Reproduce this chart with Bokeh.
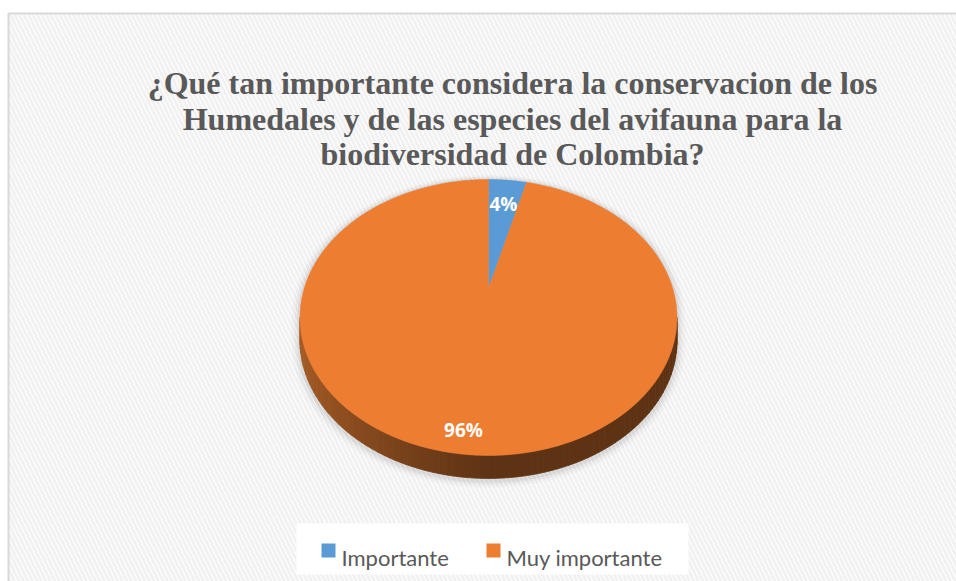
import numpy as np
from bokeh.plotting import figure
from bokeh.models import Range1d
from bokeh.core.properties import value
from bokeh.embed import file_html
from bokeh.resources import INLINE

# ---------------- data ----------------
title_lines = [
    "¿Qué tan importante considera la conservacion de los",
    "Humedales y de las especies del avifauna para la",
    "biodiversidad de Colombia?",
]
categories = ["Importante", "Muy importante"]
values = [4, 96]
colors = ["#5B9BD5", "#ED7D31"]
side_light = (0xA8, 0x5D, 0x26)
side_dark = (0x5E, 0x33, 0x14)

# ---------------- layout ----------------
W, H = 956, 581
CX, CY = 488.0, 288.0       # projected pie centre (apex)
K = 0.21                    # perspective factor
B = 131.9                   # vertical radius factor
A = 184.3                   # horizontal radius factor
DEPTH = 23.0
label_r = [0.745, 0.885]

def proj(u, v, a=A, b=B):
    den = 1.0 + K * v
    return CX + a * u / den, CY - b * v / den

p = figure(width=W, height=H, x_range=Range1d(0, W), y_range=Range1d(H, 0),
           output_backend="svg", toolbar_location=None, min_border=0,
           x_axis_type=None, y_axis_type=None)
p.grid.visible = False
p.outline_line_color = None
p.background_fill_color = "white"
p.border_fill_color = "white"

# chart area with diagonal stripes and border
p.quad(left=[8], right=[W + 20], top=[13], bottom=[H + 20],
       fill_color="white", hatch_pattern="\\", hatch_color="#f1f1f1",
       hatch_weight=3, hatch_scale=9, line_color="#d9d9d9", line_width=2)

# title
p.text(x=[512] * 3, y=[82, 118, 153], text=title_lines,
       text_font=value("Liberation Serif"), text_font_style="bold",
       text_font_size="32px", text_color="#595959",
       text_align="center", text_baseline="alphabetic")

total = float(sum(values))
fracs = [v / total for v in values]

# silhouette for shadow
phi_l = np.pi + np.arcsin(K)
phi_r = 2 * np.pi - np.arcsin(K)

def silhouette(a, b, dy):
    up = np.linspace(phi_r - 2 * np.pi, phi_l, 120)
    lo = np.linspace(phi_l, phi_r, 120)
    xs, ys = [], []
    for ph in up:
        x, y = proj(np.cos(ph), np.sin(ph), a, b)
        xs.append(x); ys.append(y)
    for ph in lo:
        x, y = proj(np.cos(ph), np.sin(ph), a, b)
        xs.append(x); ys.append(y + dy)
    return xs, ys

for s, al in [(8, 0.025), (5, 0.035), (2.5, 0.05)]:
    xs, ys = silhouette(A + s, B + s * 0.7, DEPTH + 2)
    p.patch(xs, ys, fill_color="black", fill_alpha=al, line_color=None)

# side (lower arc extruded) with gradient
n = 90
phs = np.linspace(phi_l, phi_r, n + 1)
pts = [proj(np.cos(ph), np.sin(ph)) for ph in phs]
xl, _ = proj(np.cos(phi_l), np.sin(phi_l))
side_xs, side_ys, side_cols = [], [], []
for i in range(n):
    (x0, y0), (x1, y1) = pts[i], pts[i + 1]
    side_xs.append([x0, x1, x1, x0])
    side_ys.append([y0, y1, y1 + DEPTH, y0 + DEPTH])
    xm = 0.5 * (x0 + x1)
    t = min(1.0, max(0.0, (xm - xl) / (CX - xl)))
    t = t ** 0.7
    c = tuple(int(round(side_light[j] + (side_dark[j] - side_light[j]) * t)) for j in range(3))
    side_cols.append("#%02x%02x%02x" % c)
p.patches(side_xs, side_ys, fill_color=side_cols, line_color=side_cols, line_width=0.8)

# top face wedges
start = 0.0
wx, wy = [], []
lx, ly, ltxt = [], [], []
for i, f in enumerate(fracs):
    th = np.linspace(start, start + f * 2 * np.pi, max(4, int(400 * f)))
    xs, ys = [CX], [CY]
    for t in th:
        x, y = proj(np.sin(t), np.cos(t))
        xs.append(x); ys.append(y)
    wx.append(xs); wy.append(ys)
    mid = start + f * np.pi
    x, y = proj(label_r[i] * np.sin(mid), label_r[i] * np.cos(mid))
    lx.append(x); ly.append(y)
    ltxt.append(f"{round(f * 100)}%")
    start += f * 2 * np.pi
p.patches(wx, wy, fill_color=colors, line_color=colors, line_width=0.5)

p.text(x=lx, y=ly, text=ltxt, text_font=value("Open Sans"), text_font_style="bold",
       text_font_size="19px", text_color="white", text_align="center",
       text_baseline="middle")

# legend
p.quad(left=[296], right=[688], top=[523], bottom=[574], fill_color="white",
       line_color=None)
sq_x = [321, 486]
p.quad(left=sq_x, right=[x + 14 for x in sq_x], top=[543] * 2, bottom=[557] * 2,
       fill_color=colors, line_color=None)
p.text(x=[x + 20 for x in sq_x], y=[557] * 2, text=categories,
       text_font=value("Lato"), text_font_size="22px", text_color="#595959",
       text_align="left", text_baseline="alphabetic")

open("out.html", "w").write(file_html(p, INLINE))
